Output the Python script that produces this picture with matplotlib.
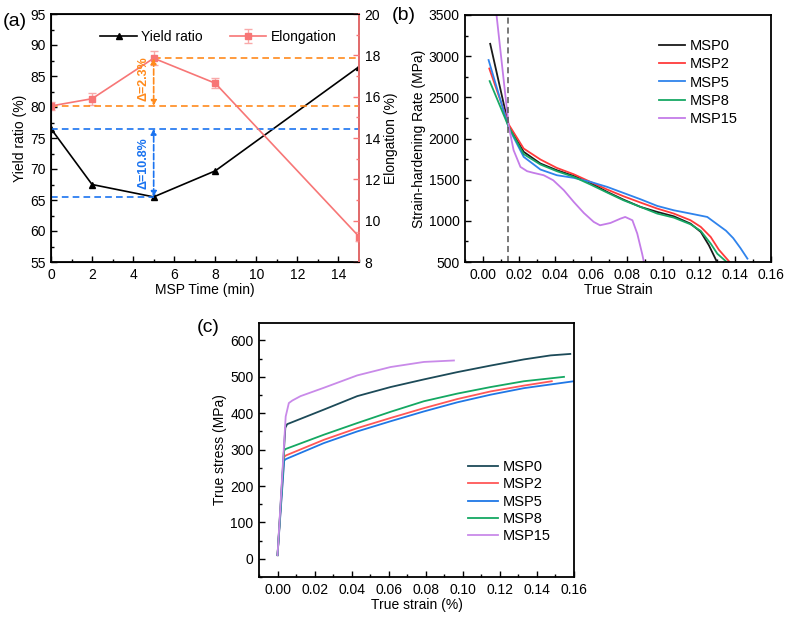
import matplotlib
matplotlib.use("Agg")
import matplotlib.pyplot as plt
from matplotlib.ticker import MultipleLocator, FormatStrFormatter

plt.rcParams['font.family'] = ['Liberation Sans', 'DejaVu Sans']
plt.rcParams['font.size'] = 10

# ---------------- Data: panel (a) ----------------
msp_time = [0, 2, 5, 8, 15]
yield_ratio = [76.5, 67.5, 65.5, 69.7, 86.5]
elongation = [15.55, 15.9, 17.86, 16.65, 9.23]
elong_err = [0.2, 0.3, 0.35, 0.25, 0.2]

# ---------------- Data: panel (b) ----------------
b_msp0_x = [0.004, 0.0143, 0.0226, 0.0319, 0.041, 0.0504, 0.0597, 0.069, 0.078, 0.0875, 0.0968, 0.106, 0.1153, 0.121, 0.1255, 0.130]
b_msp0_y = [3150, 2150, 1838, 1696, 1615, 1546, 1461, 1351, 1258, 1169, 1108, 1055, 966, 865, 703, 500]
b_msp2_x = [0.0035, 0.0143, 0.0226, 0.0319, 0.041, 0.0504, 0.0597, 0.069, 0.078, 0.0875, 0.0968, 0.106, 0.1153, 0.121, 0.1265, 0.131, 0.137]
b_msp2_y = [2850, 2170, 1878, 1745, 1643, 1566, 1473, 1380, 1299, 1222, 1149, 1088, 1007, 926, 804, 650, 500]
b_msp5_x = [0.0031, 0.0143, 0.0226, 0.0319, 0.041, 0.0504, 0.0597, 0.069, 0.078, 0.0875, 0.0968, 0.106, 0.1153, 0.1246, 0.130, 0.135, 0.139, 0.143, 0.1469]
b_msp5_y = [2953, 2130, 1777, 1623, 1554, 1522, 1473, 1412, 1339, 1262, 1181, 1128, 1088, 1047, 960, 880, 790, 670, 541]
b_msp8_x = [0.0037, 0.0143, 0.0226, 0.0319, 0.041, 0.0504, 0.0597, 0.069, 0.078, 0.0875, 0.0968, 0.106, 0.1153, 0.121, 0.1265, 0.1302, 0.1354]
b_msp8_y = [2697, 2140, 1810, 1684, 1603, 1534, 1441, 1343, 1250, 1169, 1088, 1039, 958, 877, 723, 600, 500]
b_msp15_x = [0.0055, 0.0143, 0.017, 0.0208, 0.0245, 0.028, 0.0337, 0.039, 0.0449, 0.0504, 0.056, 0.0615, 0.065, 0.0708, 0.0764, 0.079, 0.083, 0.0857, 0.0884, 0.0894]
b_msp15_y = [3900, 2150, 1858, 1655, 1603, 1583, 1554, 1493, 1372, 1230, 1096, 987, 946, 974, 1027, 1047, 1007, 845, 601, 500]

# ---------------- Data: panel (c) ----------------
c_msp0_x = [0.0, 0.0042, 0.0052, 0.025, 0.043, 0.061, 0.079, 0.097, 0.115, 0.133, 0.1474, 0.158]
c_msp0_y = [10, 360, 370, 410, 447, 472, 493, 513, 531, 548, 559, 563]
c_msp2_x = [0.0, 0.0036, 0.0045, 0.025, 0.043, 0.061, 0.079, 0.097, 0.115, 0.133, 0.148]
c_msp2_y = [10, 280, 284, 327, 359, 387, 414, 439, 460, 476, 488]
c_msp5_x = [0.0, 0.0036, 0.0045, 0.025, 0.043, 0.061, 0.079, 0.097, 0.115, 0.133, 0.16]
c_msp5_y = [10, 270, 274, 318, 350, 378, 405, 430, 451, 469, 488]
c_msp8_x = [0.0, 0.0036, 0.0045, 0.025, 0.043, 0.061, 0.079, 0.097, 0.115, 0.133, 0.1546]
c_msp8_y = [10, 298, 302, 341, 373, 404, 433, 454, 472, 488, 500]
c_msp15_x = [0.0, 0.0044, 0.0061, 0.0080, 0.0124, 0.025, 0.043, 0.061, 0.079, 0.0952]
c_msp15_y = [10, 391, 428, 435, 447, 470, 504, 527, 541, 545]

labels = ['MSP0', 'MSP2', 'MSP5', 'MSP8', 'MSP15']

W, H = 789, 620
fig = plt.figure(figsize=(W / 100, H / 100), dpi=100)
FS = 10


def ax_px(l, t, r, b):
    return fig.add_axes([l / W, 1 - b / H, (r - l) / W, (b - t) / H])


def style(ax):
    ax.tick_params(which='both', direction='in', top=False, right=False, labelsize=FS, pad=4)
    ax.tick_params(which='major', length=4, width=1)
    ax.tick_params(which='minor', length=2.5, width=1)
    for s in ax.spines.values():
        s.set_linewidth(1.3)


# ---------------- Panel (a) ----------------
axa = ax_px(51, 14, 359, 262)
style(axa)
pink = '#f77676'
orange = '#ff8a1c'
blue_d = '#1a73f0'
axa.plot(msp_time, yield_ratio, color='black', marker='^', markersize=5, lw=1.2, label='Yield ratio')
axa.set_xlim(0, 15)
axa.set_ylim(55, 95)
axa.xaxis.set_major_locator(MultipleLocator(2))
axa.xaxis.set_minor_locator(MultipleLocator(1))
axa.yaxis.set_major_locator(MultipleLocator(5))
axa.yaxis.set_minor_locator(MultipleLocator(2.5))
axa.set_xlabel('MSP Time (min)', labelpad=1, fontsize=FS)
axa.set_ylabel('Yield ratio (%)', labelpad=2, fontsize=FS)
axa.plot([0, 15], [yield_ratio[0], yield_ratio[0]], ls='--', color=blue_d, lw=1.2, dashes=(4, 2.5))
axa.plot([0, 5], [yield_ratio[2], yield_ratio[2]], ls='--', color=blue_d, lw=1.2, dashes=(4, 2.5))
axa.annotate('', xy=(5, yield_ratio[0]), xytext=(5, yield_ratio[2]),
             arrowprops=dict(arrowstyle='<|-|>', color=blue_d, lw=1.2, ls='--', mutation_scale=8, shrinkA=0, shrinkB=0))
axa.text(4.5, (yield_ratio[0] + yield_ratio[2]) / 2, 'Δ=10.8%', rotation=90, color=blue_d,
         ha='center', va='center', fontsize=9, fontweight='bold')

axr = axa.twinx()
axr.errorbar(msp_time, elongation, yerr=elong_err, color=pink, marker='s', markersize=5, lw=1.2,
             ecolor='#f9a9a9', elinewidth=1, capsize=3, label='Elongation')
axr.set_ylim(8, 20)
axr.yaxis.set_major_locator(MultipleLocator(2))
axr.yaxis.set_minor_locator(MultipleLocator(1))
axr.tick_params(which='both', direction='in', labelsize=FS, pad=4)
axr.tick_params(which='major', length=4, width=1, color=pink)
axr.tick_params(which='minor', length=2.5, width=1, color=pink)
axr.spines['right'].set_color(pink)
axr.spines['right'].set_linewidth(1.3)
axr.set_ylabel('Elongation (%)', labelpad=3, fontsize=FS)
axr.plot([5, 15], [elongation[2], elongation[2]], ls='--', color=orange, lw=1.2, dashes=(4, 2.5))
axr.plot([0, 15], [elongation[0], elongation[0]], ls='--', color=orange, lw=1.2, dashes=(4, 2.5))
axr.annotate('', xy=(5, elongation[0]), xytext=(5, elongation[2]),
             arrowprops=dict(arrowstyle='<|-|>', color=orange, lw=1.2, ls='--', mutation_scale=8, shrinkA=0, shrinkB=0))
axr.text(4.5, (elongation[0] + elongation[2]) / 2 + 0.15, 'Δ=2.3%', rotation=90, color=orange,
         ha='center', va='center', fontsize=9, fontweight='bold')

h1, l1 = axa.get_legend_handles_labels()
h2, l2 = axr.get_legend_handles_labels()
axr.legend(h1 + h2, l1 + l2, loc='upper left', bbox_to_anchor=(0.12, 0.985), ncol=2, frameon=False,
           fontsize=FS, handlelength=2.6, columnspacing=2.0, handletextpad=0.3)
fig.text(3 / W, 1 - 22 / H, '(a)', fontsize=14, va='center', ha='left')

# ---------------- Panel (b) ----------------
axb = ax_px(465, 15, 771, 262)
style(axb)
b_colors = ['#1a1a1a', '#ff3b3b', '#2f83ec', '#17a865', '#c47ce8']
bx = [b_msp0_x, b_msp2_x, b_msp5_x, b_msp8_x, b_msp15_x]
by = [b_msp0_y, b_msp2_y, b_msp5_y, b_msp8_y, b_msp15_y]
for x, y, c, lab in zip(bx, by, b_colors, labels):
    axb.plot(x, y, color=c, lw=1.3, label=lab)
axb.axvline(0.014, color='#555555', ls='--', lw=1.1, dashes=(4, 2.5))
axb.set_xlim(-0.01, 0.16)
axb.set_ylim(500, 3500)
axb.xaxis.set_major_locator(MultipleLocator(0.02))
axb.xaxis.set_minor_locator(MultipleLocator(0.01))
axb.yaxis.set_major_locator(MultipleLocator(500))
axb.yaxis.set_minor_locator(MultipleLocator(250))
axb.xaxis.set_major_formatter(FormatStrFormatter('%.2f'))
axb.set_xlabel('True Strain', labelpad=1, fontsize=FS)
axb.set_ylabel('Strain-hardening Rate (MPa)', labelpad=2, fontsize=FS)
axb.legend(loc='upper left', bbox_to_anchor=(0.6, 0.945), frameon=False, fontsize=10.5,
           handlelength=1.8, handletextpad=0.3, labelspacing=0.3, borderpad=0.2)
fig.text(392 / W, 1 - 16 / H, '(b)', fontsize=14, va='center', ha='left')

# ---------------- Panel (c) ----------------
axc = ax_px(259, 323, 574, 577)
style(axc)
c_colors = ['#1c4a58', '#ff5757', '#1f77e6', '#14a862', '#c98ae9']
cx = [c_msp0_x, c_msp2_x, c_msp5_x, c_msp8_x, c_msp15_x]
cy = [c_msp0_y, c_msp2_y, c_msp5_y, c_msp8_y, c_msp15_y]
for x, y, c, lab in zip(cx, cy, c_colors, labels):
    axc.plot(x, y, color=c, lw=1.3, label=lab)
axc.set_xlim(-0.01, 0.16)
axc.set_ylim(-50, 648)
axc.xaxis.set_major_locator(MultipleLocator(0.02))
axc.xaxis.set_minor_locator(MultipleLocator(0.01))
axc.yaxis.set_major_locator(MultipleLocator(100))
axc.yaxis.set_minor_locator(MultipleLocator(50))
axc.xaxis.set_major_formatter(FormatStrFormatter('%.2f'))
axc.set_xlabel('True strain (%)', labelpad=1, fontsize=FS)
axc.set_ylabel('True stress (MPa)', labelpad=2, fontsize=FS)
axc.legend(loc='upper left', bbox_to_anchor=(0.63, 0.5), frameon=False, fontsize=10.5,
           handlelength=2.1, handletextpad=0.3, labelspacing=0.22, borderpad=0.2)
fig.text(197 / W, 1 - 327 / H, '(c)', fontsize=14, va='center', ha='left')

fig.savefig('out.png', dpi=100)
